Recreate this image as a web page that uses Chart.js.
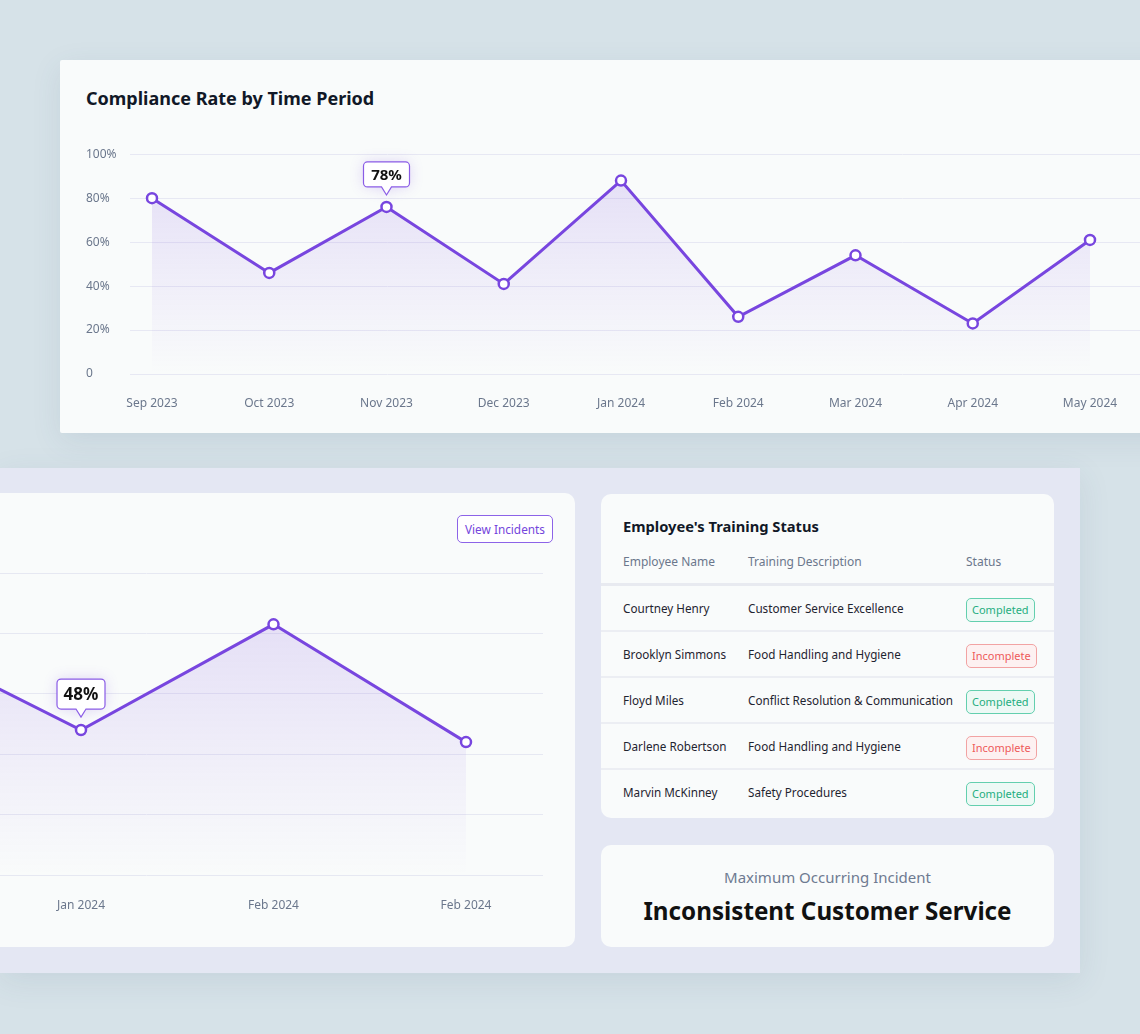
<!DOCTYPE html>
<html>
<head>
<meta charset="utf-8">
<script src="https://cdn.jsdelivr.net/npm/chart.js@4.4.1/dist/chart.umd.min.js"></script>
<style>
  body { margin:0; width:1140px; height:1034px; overflow:hidden; background:#d6e2e8; position:relative; font-family:'Noto Sans', sans-serif; }
  .top-card { position:absolute; left:60px; top:60px; width:1120px; height:373px; background:#f9fbfb; border-radius:2px; box-shadow:0 8px 30px rgba(60,90,120,0.10); }
  .top-title { position:absolute; left:26px; top:26px; line-height:24px; font-size:18px; font-weight:700; color:#111827; }
  #topChart { position:absolute; left:26px; top:72px; }
  .panel { position:absolute; left:0; top:468px; width:1080px; height:505px; background:#e4e7f3; box-shadow:0 8px 30px rgba(60,90,120,0.10); }
  .chart-card { position:absolute; left:-20px; top:25px; width:595px; height:454px; background:#f9fbfb; border-radius:10px; overflow:hidden; }
  #bottomChart { position:absolute; left:-230px; top:70px; }
  .btn { position:absolute; left:477px; top:22px; width:94px; height:26px; border:1px solid #8d63e8; border-radius:5px; color:#7446dc; font-size:11.8px; line-height:26px; text-align:center; background:#fff; }
  .table-card { position:absolute; left:601px; top:26px; width:453px; height:324px; background:#f9fbfb; border-radius:10px; overflow:hidden; }
  .t-title { position:absolute; left:22px; top:22px; line-height:20px; font-size:14.7px; font-weight:700; color:#111827; }
  .t-head { position:absolute; left:0; top:56px; width:100%; height:24px; font-size:12px; color:#6b778c; }
  .t-sep { position:absolute; left:0; top:89px; width:100%; height:3px; background:#e8eaf0; }
  .t-rows { position:absolute; left:0; top:92px; width:100%; }
  .row { position:relative; height:44px; border-bottom:2px solid #eceef3; font-size:11.7px; color:#1f2430; }
  .row:last-child { border-bottom:none; }
  .cell { position:absolute; top:0; line-height:44px; white-space:nowrap; }
  .t-head .cell { line-height:24px; }
  .c1 { left:22px; } .c2 { left:147px; } .c3 { left:365px; }
  .badge { display:inline-block; height:22px; line-height:22px; padding:0 5px; border-radius:5px; font-size:11px; vertical-align:middle; }
  .ok { border:1px solid #63cfae; background:#edf9f5; color:#1fae80; }
  .bad { border:1px solid #f2a3a3; background:#fdf1f1; color:#ee5a5a; }
  .inc-card { position:absolute; left:601px; top:377px; width:453px; height:102px; background:#f9fbfb; border-radius:10px; text-align:center; }
  .inc-sub { position:absolute; left:0; width:100%; top:21px; line-height:22px; font-size:15px; color:#6e7a91; }
  .inc-main { position:absolute; left:0; width:100%; top:48px; line-height:36px; font-size:24.2px; font-weight:700; color:#111; }
</style>
</head>
<body>
<div class="top-card">
  <div class="top-title">Compliance Rate by Time Period</div>
  <canvas id="topChart" width="1074" height="283"></canvas>
</div>

<div class="panel">
  <div class="chart-card">
    <canvas id="bottomChart" width="793" height="350"></canvas>
    <div class="btn">View Incidents</div>
  </div>
  <div class="table-card">
    <div class="t-title">Employee's Training Status</div>
    <div class="t-head">
      <div class="cell c1">Employee Name</div>
      <div class="cell c2">Training Description</div>
      <div class="cell c3">Status</div>
    </div>
    <div class="t-sep"></div>
    <div class="t-rows" id="rows"></div>
  </div>
  <div class="inc-card">
    <div class="inc-sub">Maximum Occurring Incident</div>
    <div class="inc-main">Inconsistent Customer Service</div>
  </div>
</div>

<script>
// top chart data
const topMonths = ['Sep 2023', 'Oct 2023', 'Nov 2023', 'Dec 2023', 'Jan 2024', 'Feb 2024', 'Mar 2024', 'Apr 2024', 'May 2024'];
const topRates = [80, 46, 76, 41, 88, 26, 54, 23, 61];
const topYLabels = ['0', '20%', '40%', '60%', '80%', '100%'];
const topCalloutIndex = 2;
const topCalloutText = '78%';

// incidents chart (only the right part shows)
const bottomMonths = ['Dec 2023', 'Jan 2024', 'Feb 2024', 'Feb 2024'];
const bottomRates = [80, 48, 83, 44];
const bottomCalloutIndex = 1;
const bottomCalloutText = '48%';

// training table
const employeeNames = ['Courtney Henry', 'Brooklyn Simmons', 'Floyd Miles', 'Darlene Robertson', 'Marvin McKinney'];
const trainingNames = ['Customer Service Excellence', 'Food Handling and Hygiene', 'Conflict Resolution & Communication', 'Food Handling and Hygiene', 'Safety Procedures'];
const trainingStatus = ['Completed', 'Incomplete', 'Completed', 'Incomplete', 'Completed'];

const purple = '#7846df';
const tickColor = '#6b778c';

const rowsEl = document.getElementById('rows');
employeeNames.forEach((name, i) => {
  const row = document.createElement('div');
  row.className = 'row';
  const cls = trainingStatus[i] === 'Completed' ? 'ok' : 'bad';
  row.innerHTML = '<div class="cell c1">' + name + '</div>' +
    '<div class="cell c2">' + trainingNames[i].replace('&', '&amp;') + '</div>' +
    '<div class="cell c3"><span class="badge ' + cls + '">' + trainingStatus[i] + '</span></div>';
  rowsEl.appendChild(row);
});

// little speech-bubble label above one point
const calloutPlugin = {
  id: 'callout',
  afterDatasetsDraw(chart, args, opts) {
    if (opts.index == null) return;
    const pt = chart.getDatasetMeta(0).data[opts.index];
    const ctx = chart.ctx;
    const x = pt.x, w = opts.width, h = opts.height;
    const bottom = pt.y - opts.gap;
    const top = bottom - h;
    const left = x - w / 2;
    const r = 4, aw = 5, ah = opts.arrow;
    ctx.save();
    ctx.beginPath();
    ctx.moveTo(left + r, top);
    ctx.lineTo(left + w - r, top);
    ctx.arcTo(left + w, top, left + w, top + r, r);
    ctx.lineTo(left + w, bottom - r);
    ctx.arcTo(left + w, bottom, left + w - r, bottom, r);
    ctx.lineTo(x + aw, bottom);
    ctx.lineTo(x, bottom + ah);
    ctx.lineTo(x - aw, bottom);
    ctx.lineTo(left + r, bottom);
    ctx.arcTo(left, bottom, left, bottom - r, r);
    ctx.lineTo(left, top + r);
    ctx.arcTo(left, top, left + r, top, r);
    ctx.closePath();
    ctx.shadowColor = 'rgba(123,74,224,0.22)';
    ctx.shadowBlur = 14;
    ctx.fillStyle = '#ffffff';
    ctx.fill();
    ctx.shadowColor = 'transparent';
    ctx.lineWidth = 1.2;
    ctx.strokeStyle = '#8a5ce6';
    ctx.stroke();
    ctx.fillStyle = '#111';
    ctx.font = 'bold ' + opts.fontSize + 'px "Noto Sans"';
    ctx.textAlign = 'center';
    ctx.textBaseline = 'middle';
    ctx.fillText(opts.text, x, top + h / 2 + 1);
    ctx.restore();
  }
};

function areaFill(alpha) {
  return (c) => {
    const { ctx, chartArea } = c.chart;
    if (!chartArea) return 'rgba(123,74,224,0.1)';
    const g = ctx.createLinearGradient(0, chartArea.top, 0, chartArea.bottom);
    g.addColorStop(0, 'rgba(123,74,224,' + alpha + ')');
    g.addColorStop(1, 'rgba(123,74,224,0)');
    return g;
  };
}

function lineSet(values, alpha) {
  return {
    data: values.map((v, i) => ({ x: i, y: v })),
    borderColor: purple,
    borderWidth: 3,
    pointRadius: 5,
    pointBorderWidth: 2.5,
    pointBackgroundColor: '#fff',
    pointBorderColor: purple,
    fill: 'origin',
    backgroundColor: areaFill(alpha),
    tension: 0,
    clip: 10
  };
}

// y tick labels + padding push the plot top down by 22px, so no extra layout padding here
new Chart(document.getElementById('topChart'), {
  type: 'line',
  data: { datasets: [lineSet(topRates, 0.17)] },
  plugins: [calloutPlugin],
  options: {
    responsive: false,
    animation: false,
    layout: { autoPadding: false, padding: 0 },
    plugins: {
      legend: { display: false },
      tooltip: { enabled: false },
      callout: { index: topCalloutIndex, text: topCalloutText, width: 46, height: 25, gap: 20, arrow: 8, fontSize: 15 }
    },
    scales: {
      x: {
        type: 'linear', min: -0.1876, max: 8.597,
        grid: { display: false, drawTicks: false }, border: { display: false },
        ticks: { stepSize: 1, includeBounds: false, autoSkip: false, maxRotation: 0, padding: 22, color: tickColor, font: { size: 12, family: 'Noto Sans' }, callback: v => topMonths[v] ?? '' },
        afterFit: a => { a.height = 41; }
      },
      y: {
        min: 0, max: 100,
        grid: { color: '#e7e8f3', drawTicks: false },
        border: { display: false },
        ticks: { stepSize: 20, padding: 15, crossAlign: 'far', color: tickColor, font: { size: 12, family: 'Noto Sans' }, callback: (v, i) => topYLabels[i] },
        afterFit: a => { a.width = 44; }
      }
    }
  }
});

new Chart(document.getElementById('bottomChart'), {
  type: 'line',
  data: { datasets: [lineSet(bottomRates, 0.18)] },
  plugins: [calloutPlugin],
  options: {
    responsive: false,
    animation: false,
    layout: { autoPadding: false, padding: { top: 10, left: 0, right: 0, bottom: 0 } },
    plugins: {
      legend: { display: false },
      tooltip: { enabled: false },
      callout: { index: bottomCalloutIndex, text: bottomCalloutText, width: 48, height: 30, gap: 21, arrow: 8, fontSize: 17 }
    },
    scales: {
      x: {
        type: 'linear', min: -0.7195, max: 3.4,
        grid: { display: false, drawTicks: false }, border: { display: false },
        ticks: { stepSize: 1, includeBounds: false, autoSkip: false, maxRotation: 0, padding: 23, color: tickColor, font: { size: 12, family: 'Noto Sans' }, callback: v => bottomMonths[v] ?? '' },
        afterFit: a => { a.height = 38; }
      },
      y: {
        min: 0, max: 100,
        grid: { color: '#e6e8f2', drawTicks: false },
        border: { display: false },
        ticks: { display: false, stepSize: 20 },
        afterFit: a => { a.width = 0; }
      }
    }
  }
});
</script>
</body>
</html>
